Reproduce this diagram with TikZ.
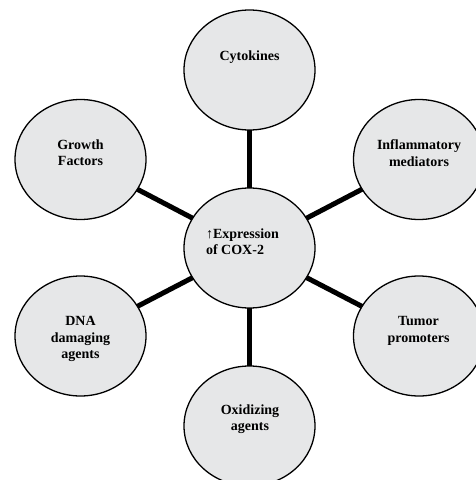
\documentclass[tikz,border=0pt]{standalone}
\usepackage{fontspec}
\setmainfont{Liberation Serif}
\usetikzlibrary{shapes.geometric}
\definecolor{blobgray}{RGB}{230,231,232}
\tikzset{
  factor/.style={ellipse, draw=black, line width=1.3bp, fill=blobgray, minimum width=131bp, minimum height=120bp, inner sep=0pt},
  factortext/.style={align=center, inner sep=0pt, font=\fontsize{14bp}{16.5bp}\selectfont\bfseries},
  link/.style={line width=5bp, black, shorten <=-1bp, shorten >=-1bp}
}
\begin{document}
\begin{tikzpicture}[x=1bp,y=-1bp]
  \clip (0,0) rectangle (476,480);
  % the centre and the six factors
  \node[factor] (cox) at (249.5,248) {};
  \node[factor] (cyto) at (249.5,70) {};
  \node[factor] (growth) at (80.5,159.5) {};
  \node[factor] (inflam) at (419,159.5) {};
  \node[factor] (dna) at (80.5,336) {};
  \node[factor] (tumor) at (419,336) {};
  \node[factor] (oxid) at (249.5,426) {};

  \draw[link] (cox) -- (cyto);
  \draw[link] (cox) -- (growth);
  \draw[link] (cox) -- (inflam);
  \draw[link] (cox) -- (dna);
  \draw[link] (cox) -- (tumor);
  \draw[link] (cox) -- (oxid);

  \node[factortext, align=left] (coxtext) at (242.5,241.7) {↑Expression\\of COX-2};
  \node[factortext] (cytotext) at (249.5,57.5) {Cytokines};
  \node[factortext] (growthtext) at (80.5,152.5) {Growth\\Factors};
  \node[factortext] (inflamtext) at (419,153) {Inflammatory\\mediators};
  \node[factortext] (dnatext) at (80.5,339) {DNA\\damaging\\agents};
  \node[factortext] (tumortext) at (418.5,331) {Tumor\\promoters};
  \node[factortext] (oxidtext) at (250,419) {Oxidizing\\agents};
\end{tikzpicture}
\end{document}
